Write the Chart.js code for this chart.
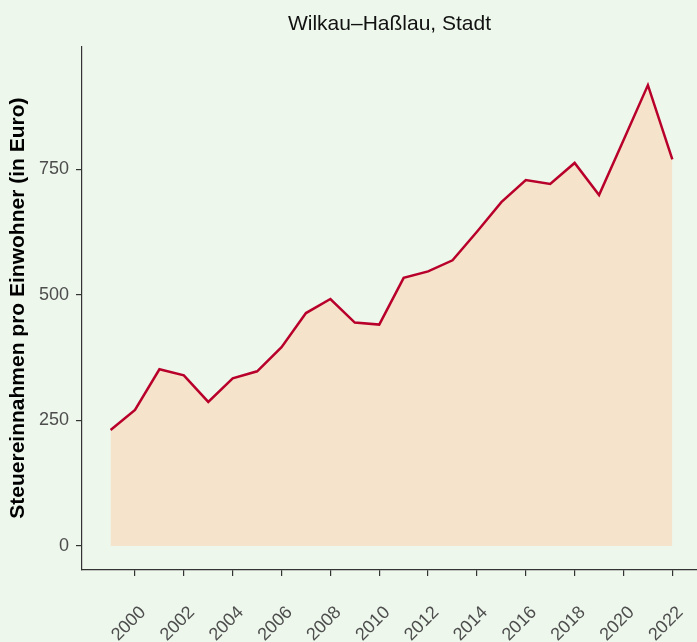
<!DOCTYPE html>
<html>
<head>
<meta charset="utf-8">
<script src="https://cdn.jsdelivr.net/npm/chart.js@4/dist/chart.umd.min.js"></script>
<style>
  html, body { margin: 0; padding: 0; background: #edf7ec; }
  canvas { display: block; }
</style>
</head>
<body>
<canvas id="c" width="697" height="642"></canvas>
<script>
const years  = [1999, 2000, 2001, 2002, 2003, 2004, 2005, 2006, 2007, 2008, 2009, 2010,
                2011, 2012, 2013, 2014, 2015, 2016, 2017, 2018, 2019, 2020, 2021, 2022];
const values = [231, 271, 352, 340, 287, 334, 348, 396, 464, 492, 445, 441,
                534, 547, 569, 626, 685, 729, 721, 763, 699, 808, 918, 770];
const xTickValues = [2000, 2002, 2004, 2006, 2008, 2010, 2012, 2014, 2016, 2018, 2020, 2022];
const yTickValues = [0, 250, 500, 750];
const chartTitle = 'Wilkau–Haßlau, Stadt';
const yAxisTitle = 'Steuereinnahmen pro Einwohner (in Euro)';

const FONT = "'Liberation Sans', Arial, Helvetica, sans-serif";
const AXIS = '#333333';

new Chart(document.getElementById('c'), {
  type: 'line',
  data: {
    datasets: [{
      data: years.map((x, i) => ({ x: x, y: values[i] })),
      borderColor: '#b8002b',
      backgroundColor: '#f5e3cb',
      borderWidth: 2.5,
      fill: 'origin',
      pointRadius: 0,
      tension: 0,
      borderJoinStyle: 'miter'
    }]
  },
  options: {
    responsive: false,
    animation: false,
    devicePixelRatio: 1,
    layout: { padding: 0 },
    plugins: {
      legend: { display: false },
      tooltip: { enabled: false },
      title: {
        display: true,
        text: chartTitle,
        fullSize: false,
        color: '#111111',
        font: { family: FONT, size: 21, weight: 'normal' },
        padding: { top: 11.5, bottom: 9.5 }
      }
    },
    scales: {
      x: {
        type: 'linear',
        min: 1997.83,
        max: 2023.01,
        afterBuildTicks: s => { s.ticks = xTickValues.map(v => ({ value: v })); },
        afterFit: s => { s.height = 72; s.paddingLeft = 0; s.paddingRight = 0; },
        ticks: {
          autoSkip: false,
          minRotation: 45,
          maxRotation: 45,
          padding: 26,
          labelOffset: 8,
          color: '#4d4d4d',
          font: { family: FONT, size: 18 },
          callback: v => String(v)
        },
        grid: { drawOnChartArea: false, drawTicks: true, tickLength: 6, color: AXIS, lineWidth: 1.2 },
        border: { display: true, color: AXIS, width: 1.2 }
      },
      y: {
        type: 'linear',
        min: -47.8,
        max: 995.5,
        afterBuildTicks: s => { s.ticks = yTickValues.map(v => ({ value: v })); },
        afterFit: s => { s.width = 82; },
        ticks: {
          padding: 7,
          color: '#4d4d4d',
          font: { family: FONT, size: 18 },
          callback: v => String(v)
        },
        grid: { drawOnChartArea: false, drawTicks: true, tickLength: 6, color: AXIS, lineWidth: 1.2 },
        border: { display: true, color: AXIS, width: 1.2 },
        title: {
          display: true,
          text: yAxisTitle,
          color: '#000000',
          font: { family: FONT, size: 21, weight: 'bold' },
          padding: { top: 6, bottom: 0 }
        }
      }
    }
  }
});
</script>
</body>
</html>
